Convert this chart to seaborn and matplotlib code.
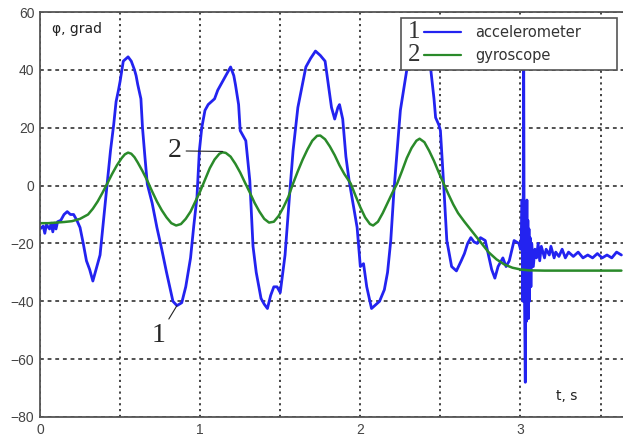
import numpy as np
import pandas as pd
import matplotlib
matplotlib.use("Agg")
import matplotlib.pyplot as plt
import seaborn as sns
from matplotlib.legend_handler import HandlerBase
from matplotlib.lines import Line2D
from matplotlib.text import Text

# accelerometer trace
acc_t = [0.00, 0.02, 0.03, 0.04, 0.06, 0.07, 0.08, 0.09, 0.10, 0.11, 0.13, 0.15,
         0.17, 0.19, 0.21, 0.23, 0.25, 0.27, 0.29, 0.31, 0.33, 0.35, 0.375, 0.40,
         0.42, 0.44, 0.46, 0.475, 0.49, 0.50, 0.52, 0.55, 0.57, 0.59, 0.60, 0.61,
         0.63, 0.64, 0.655, 0.67, 0.70, 0.73, 0.76, 0.79, 0.81, 0.83, 0.855, 0.885,
         0.91, 0.94, 0.96, 0.98, 0.995, 1.01, 1.03, 1.05, 1.07, 1.09, 1.11, 1.13,
         1.16, 1.19, 1.21, 1.22, 1.24, 1.25, 1.27, 1.285, 1.31, 1.33, 1.35, 1.38,
         1.40, 1.42, 1.44, 1.46, 1.48, 1.50, 1.53, 1.56, 1.58, 1.61, 1.635, 1.66,
         1.69, 1.72, 1.75, 1.78, 1.80, 1.82, 1.84, 1.86, 1.87, 1.89, 1.91, 1.93,
         1.96, 1.98, 2.00, 2.02, 2.04, 2.07, 2.10, 2.12, 2.15, 2.17, 2.19, 2.21,
         2.23, 2.25, 2.27, 2.29, 2.33, 2.37, 2.41, 2.44, 2.46, 2.47, 2.49, 2.50,
         2.52, 2.54, 2.57, 2.60, 2.63, 2.65, 2.67, 2.69, 2.71, 2.73, 2.75, 2.78,
         2.80, 2.82, 2.84, 2.86, 2.89, 2.91, 2.93, 2.96, 2.99, 3.00, 3.005, 3.01,
         3.015, 3.02, 3.023, 3.026, 3.03, 3.033, 3.036, 3.04, 3.043, 3.046, 3.05,
         3.053, 3.056, 3.06, 3.065, 3.07, 3.08, 3.09,
         3.10, 3.11, 3.12, 3.13, 3.15, 3.16, 3.18, 3.19, 3.21, 3.22, 3.24, 3.26,
         3.28, 3.30, 3.33, 3.36, 3.39, 3.42, 3.45, 3.48, 3.51, 3.54, 3.57, 3.60, 3.63]
acc_phi = [-15, -14, -16.5, -13.5, -15, -13, -16, -13, -15, -12.5, -12, -10,
           -9, -10, -10, -12, -14.5, -20, -26, -29, -33, -29, -24, -10,
           1, 12, 21, 29, 33, 36, 43, 44.5, 43, 40, 38, 35,
           30, 20, 10, 0.5, -6, -14.5, -22, -30, -35, -40, -41.5, -40.5,
           -35, -25, -14, -4, 12, 20, 26, 28, 29, 30, 33, 35,
           38, 41, 38, 35, 28, 19, 17, 15.5, 1.7, -21, -30, -39,
           -41, -42.5, -38, -35, -35, -37, -24, -2, 12, 27, 34, 41,
           44, 46.5, 45, 43, 35, 27, 23, 27, 28, 23, 10, 1.7,
           -8, -14.5, -28, -27, -35, -42.5, -41, -40, -36, -30, -19, -1.7,
           12, 26, 33, 40, 45, 47, 44, 40, 30, 23.5, 21, 19,
           0.7, -19, -28, -29.5, -26, -23.5, -20, -18, -19.5, -20, -18, -19,
           -24, -29, -32, -28, -25, -28, -26, -19, -20, -22, -18, -5,
           -40, 45, -25, -45, -68, -10, -47, -5, -44, -12, -46,
           -15, -40, -18, -35, -20, -28, -22,
           -25, -20, -26, -21, -25, -22, -24, -21, -25, -23, -24.5, -22,
           -25, -23, -24.5, -23, -25, -24, -25, -23.5, -25, -24, -25, -23, -24]

# gyroscope trace
gyro_t = [0.00, 0.05, 0.10, 0.15, 0.20, 0.25, 0.30, 0.33, 0.36, 0.39, 0.42, 0.45,
          0.48, 0.51, 0.53, 0.55, 0.57, 0.59, 0.61, 0.64, 0.67, 0.70, 0.73, 0.76,
          0.79, 0.82, 0.85, 0.88, 0.91, 0.94, 0.97, 1.00, 1.03, 1.06, 1.09, 1.12,
          1.14, 1.16, 1.19, 1.22, 1.25, 1.28, 1.31, 1.34, 1.37, 1.40, 1.43, 1.46,
          1.49, 1.52, 1.55, 1.58, 1.61, 1.64, 1.67, 1.70, 1.73, 1.75, 1.78, 1.81,
          1.84, 1.87, 1.90, 1.94, 1.97, 2.00, 2.03, 2.06, 2.08, 2.11, 2.14, 2.17,
          2.20, 2.23, 2.26, 2.29, 2.32, 2.35, 2.37, 2.40, 2.43, 2.46, 2.49, 2.52,
          2.55, 2.58, 2.61, 2.65, 2.70, 2.75, 2.80, 2.85, 2.90, 2.95, 3.00, 3.05,
          3.15, 3.30, 3.45, 3.63]
gyro_phi = [-13, -13, -12.8, -12.6, -12.3, -11.5, -10, -8, -5.5, -2.5, 0.7, 4,
            7, 9.5, 10.8, 11.4, 11, 9.8, 8, 5, 1.7, -2, -5.5, -8.5,
            -11, -13, -13.8, -13.3, -11.5, -9, -5.5, -2, 2, 6, 9, 11,
            11.5, 11.3, 10, 7.5, 4.5, 1, -2.4, -6, -9, -11.5, -12.8, -12.5,
            -10.5, -7.5, -4, 0.7, 5, 9, 12.5, 15.5, 17.2, 17.3, 16, 13.5,
            10.5, 7, 4, 0.7, -3.5, -7.5, -11, -13.3, -13.8, -12.5, -9.5, -6,
            -2.5, 0.7, 5, 9.5, 13, 15.5, 16.2, 15, 12, 8.5, 4.5, 0.7,
            -3, -6.5, -9.5, -12.5, -16, -19.5, -23, -25.5, -27.3, -28.4, -29, -29.3,
            -29.4, -29.4, -29.4, -29.4]

x_ticks = [0, 0.5, 1, 1.5, 2, 2.5, 3, 3.5]
x_labels = ["0", "", "1", "", "2", "", "3", ""]
y_ticks = [-80, -60, -40, -20, 0, 20, 40, 60]

acc = pd.DataFrame({"t": acc_t, "phi": acc_phi})
gyro = pd.DataFrame({"t": gyro_t, "phi": gyro_phi})

sns.set_style("white")
plt.rcParams["font.family"] = ["Liberation Sans", "DejaVu Sans"]

BLUE = "#2323f0"
GREEN = "#2a8a2a"
SERIF = ["Liberation Serif", "DejaVu Serif"]


class NumberedLine(HandlerBase):
    # legend handle: a serif number followed by a short line sample
    def __init__(self, num):
        super().__init__()
        self.num = num

    def create_artists(self, legend, orig_handle, xdescent, ydescent,
                       width, height, fontsize, trans):
        y = height / 2 - ydescent
        num = Text(-xdescent, y, self.num, fontsize=18, va="center", ha="left",
                   family=SERIF, color="#333333", transform=trans)
        line = Line2D([-xdescent + 0.3 * width, width - xdescent], [y, y],
                      color=orig_handle.get_color(), lw=1.6, transform=trans)
        return [num, line]


fig = plt.figure(figsize=(6.23, 4.40), dpi=100)
ax = fig.add_axes([0.0642, 0.0523, 0.9358, 0.9204])

sns.lineplot(data=acc, x="t", y="phi", ax=ax, color=BLUE, lw=2.0,
             sort=False, estimator=None, label="accelerometer")
sns.lineplot(data=gyro, x="t", y="phi", ax=ax, color=GREEN, lw=1.8,
             sort=False, estimator=None, label="gyroscope")

ax.set_xlim(0, 3.64)
ax.set_ylim(-80, 60)
ax.set_xticks(x_ticks, x_labels)
ax.set_yticks(y_ticks)
ax.set_xlabel("")
ax.set_ylabel("")
ax.tick_params(direction="in", length=5, width=1, colors="#333333",
               labelcolor="#444444", labelsize=10, pad=4)
ax.grid(True, axis="x", color="#222222", linestyle=(0, (1.3, 2.2)), lw=1.2)
ax.grid(True, axis="y", color="#222222", linestyle=(0, (2.5, 2.5)), lw=1.1)

for side in ["left", "bottom", "top"]:
    ax.spines[side].set_color("#555555")
    ax.spines[side].set_linewidth(1.3)
ax.spines["right"].set_visible(False)

h1, h2 = ax.get_lines()[0], ax.get_lines()[1]
leg = ax.legend([h1, h2], ["accelerometer", "gyroscope"],
                handler_map={h1: NumberedLine("1"), h2: NumberedLine("2")},
                loc="upper left", bbox_to_anchor=(0.620, 0.857, 0.369, 0.128),
                mode="expand", borderaxespad=0,
                prop={"family": ["DejaVu Sans"], "size": 10.5},
                handlelength=3.6, handletextpad=1.0, labelspacing=0.6,
                borderpad=0.45, fancybox=False, framealpha=1,
                edgecolor="#555555")
leg.get_frame().set_linewidth(1.2)
for txt in leg.get_texts():
    txt.set_color("#333333")

ax.text(0.02, 0.975, "φ, grad", transform=ax.transAxes, fontsize=10,
        family=["DejaVu Sans"], va="top", ha="left", color="#222222")
ax.text(0.885, 0.035, "t, s", transform=ax.transAxes, fontsize=10,
        family=["DejaVu Sans"], va="bottom", ha="left", color="#222222")

ax.annotate("2", xy=(1.14, 11.8), xytext=(0.84, 12), fontsize=20,
            family=SERIF, ha="center", va="center",
            arrowprops=dict(arrowstyle="-", color="#222222", lw=0.8,
                            shrinkA=1, shrinkB=0))
ax.annotate("1", xy=(0.855, -41.5), xytext=(0.74, -52), fontsize=20,
            family=SERIF, ha="center", va="center",
            arrowprops=dict(arrowstyle="-", color="#222222", lw=0.8,
                            shrinkA=1, shrinkB=0))

fig.savefig("out.png", dpi=100)
plt.close(fig)
